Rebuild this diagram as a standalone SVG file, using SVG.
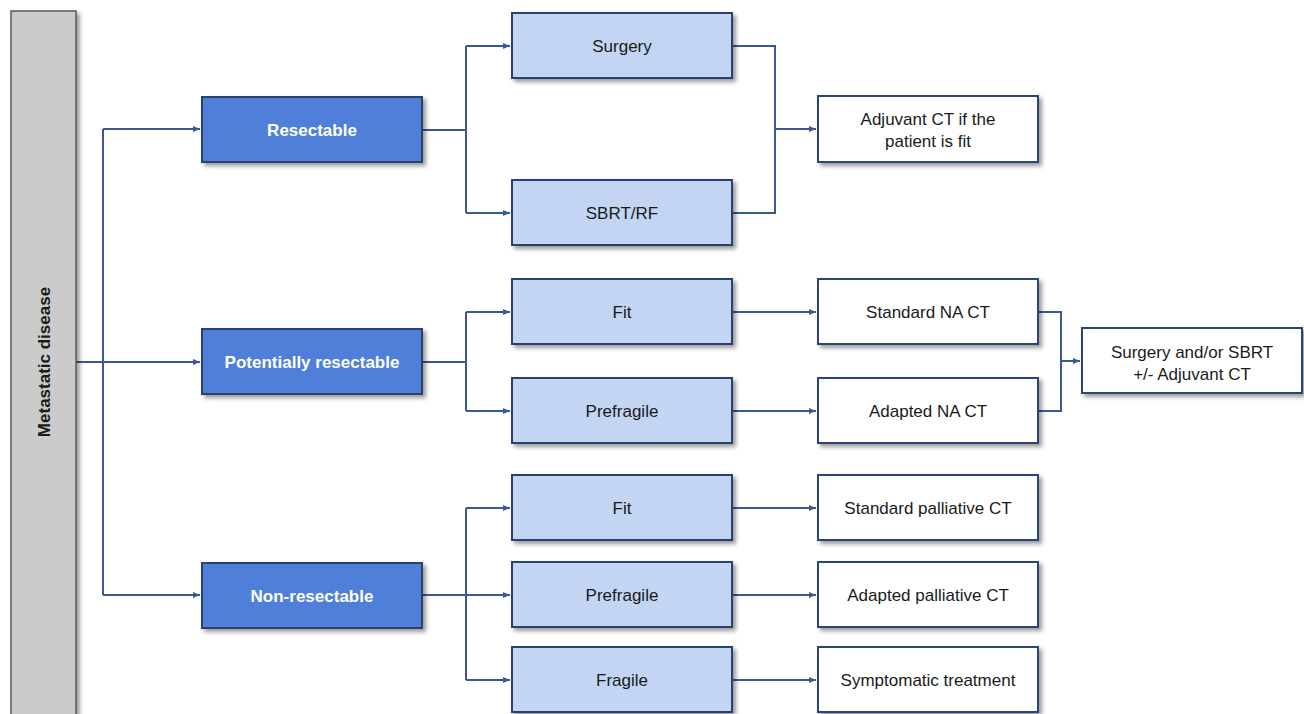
<svg xmlns="http://www.w3.org/2000/svg" width="1304" height="714" viewBox="0 0 1304 714">
<style>
.l1{fill:#4F7FD9;stroke:#2A3F6E;stroke-width:2}
.l2{fill:#C3D5F2;stroke:#2A3F6E;stroke-width:2}
.l3{fill:#FFFFFF;stroke:#2A4578;stroke-width:2}
.gr{fill:#CBCBCB;stroke:#5A5A5A;stroke-width:1.5}
.t{font-family:"Liberation Sans",Arial,sans-serif;font-size:17px;text-anchor:middle;fill:#1a1a1a}
.tb{font-family:"Liberation Sans",Arial,sans-serif;font-size:17px;font-weight:bold;text-anchor:middle;fill:#FFFFFF}
.c{fill:none;stroke:#3B5796;stroke-width:2}
</style>
<defs>
<filter id="sh" x="-10%" y="-20%" width="130%" height="150%">
<feDropShadow dx="3" dy="3" stdDeviation="2" flood-color="#000" flood-opacity="0.4"/>
</filter>
<marker id="ar" markerWidth="8" markerHeight="8" refX="7" refY="4" orient="auto" markerUnits="userSpaceOnUse">
<path d="M0,1 L7,4 L0,7 Z" fill="#3B5796"/>
</marker>
</defs>
<rect width="1304" height="714" fill="#FFFFFF"/>
<g id="connectors">
<path class="c" d="M76,362 L200,362" marker-end="url(#ar)"/>
<path class="c" d="M103,129 L103,595"/>
<path class="c" d="M103,129 L200,129" marker-end="url(#ar)"/>
<path class="c" d="M103,595 L200,595" marker-end="url(#ar)"/>
<path class="c" d="M422,130 L466,130"/>
<path class="c" d="M466,46 L466,213"/>
<path class="c" d="M466,46 L510,46" marker-end="url(#ar)"/>
<path class="c" d="M466,213 L510,213" marker-end="url(#ar)"/>
<path class="c" d="M732,46 L775,46 L775,213 L732,213"/>
<path class="c" d="M775,129 L816,129" marker-end="url(#ar)"/>
<path class="c" d="M422,362 L466,362"/>
<path class="c" d="M466,312 L466,411"/>
<path class="c" d="M466,312 L510,312" marker-end="url(#ar)"/>
<path class="c" d="M466,411 L510,411" marker-end="url(#ar)"/>
<path class="c" d="M732,312 L816,312" marker-end="url(#ar)"/>
<path class="c" d="M732,411 L816,411" marker-end="url(#ar)"/>
<path class="c" d="M1038,312 L1061,312 L1061,411 L1038,411"/>
<path class="c" d="M1061,361 L1080,361" marker-end="url(#ar)"/>
<path class="c" d="M422,595 L510,595" marker-end="url(#ar)"/>
<path class="c" d="M466,508 L466,680"/>
<path class="c" d="M466,508 L510,508" marker-end="url(#ar)"/>
<path class="c" d="M466,680 L510,680" marker-end="url(#ar)"/>
<path class="c" d="M732,508 L816,508" marker-end="url(#ar)"/>
<path class="c" d="M732,595 L816,595" marker-end="url(#ar)"/>
<path class="c" d="M732,680 L816,680" marker-end="url(#ar)"/>
</g>
<g id="metastatic">
<rect class="gr" x="11" y="11" width="65" height="710" filter="url(#sh)"/>
<text class="t" style="font-weight:bold" transform="translate(50,362) rotate(-90)">Metastatic disease</text>
</g>
<g id="resectable">
<rect class="l1" x="202" y="97" width="220" height="65" filter="url(#sh)"/>
<text class="tb" x="312" y="136">Resectable</text>
</g>
<g id="potentially">
<rect class="l1" x="202" y="329" width="220" height="65" filter="url(#sh)"/>
<text class="tb" x="312" y="368">Potentially resectable</text>
</g>
<g id="nonresectable">
<rect class="l1" x="202" y="563" width="220" height="65" filter="url(#sh)"/>
<text class="tb" x="312" y="602">Non-resectable</text>
</g>
<g id="surgery">
<rect class="l2" x="512" y="13" width="220" height="65" filter="url(#sh)"/>
<text class="t" x="622" y="52">Surgery</text>
</g>
<g id="sbrt">
<rect class="l2" x="512" y="180" width="220" height="65" filter="url(#sh)"/>
<text class="t" x="622" y="219">SBRT/RF</text>
</g>
<g id="fit1">
<rect class="l2" x="512" y="279" width="220" height="65" filter="url(#sh)"/>
<text class="t" x="622" y="318">Fit</text>
</g>
<g id="prefragile1">
<rect class="l2" x="512" y="378" width="220" height="65" filter="url(#sh)"/>
<text class="t" x="622" y="417">Prefragile</text>
</g>
<g id="fit2">
<rect class="l2" x="512" y="475" width="220" height="65" filter="url(#sh)"/>
<text class="t" x="622" y="514">Fit</text>
</g>
<g id="prefragile2">
<rect class="l2" x="512" y="562" width="220" height="65" filter="url(#sh)"/>
<text class="t" x="622" y="601">Prefragile</text>
</g>
<g id="fragile">
<rect class="l2" x="512" y="647" width="220" height="65" filter="url(#sh)"/>
<text class="t" x="622" y="686">Fragile</text>
</g>
<g id="adjuvant">
<rect class="l3" x="818" y="96" width="220" height="66" filter="url(#sh)"/>
<text class="t" x="928" y="125">Adjuvant CT if the</text>
<text class="t" x="928" y="147">patient is fit</text>
</g>
<g id="standardNA">
<rect class="l3" x="818" y="279" width="220" height="65" filter="url(#sh)"/>
<text class="t" x="928" y="318">Standard NA CT</text>
</g>
<g id="adaptedNA">
<rect class="l3" x="818" y="378" width="220" height="65" filter="url(#sh)"/>
<text class="t" x="928" y="417">Adapted NA CT</text>
</g>
<g id="surgeryor">
<rect class="l3" x="1082" y="328" width="220" height="65" filter="url(#sh)"/>
<text class="t" x="1192" y="358">Surgery and/or SBRT</text>
<text class="t" x="1192" y="380">+/- Adjuvant CT</text>
</g>
<g id="standardpal">
<rect class="l3" x="818" y="475" width="220" height="65" filter="url(#sh)"/>
<text class="t" x="928" y="514">Standard palliative CT</text>
</g>
<g id="adaptedpal">
<rect class="l3" x="818" y="562" width="220" height="65" filter="url(#sh)"/>
<text class="t" x="928" y="601">Adapted palliative CT</text>
</g>
<g id="symptomatic">
<rect class="l3" x="818" y="647" width="220" height="65" filter="url(#sh)"/>
<text class="t" x="928" y="686">Symptomatic treatment</text>
</g>
</svg>
